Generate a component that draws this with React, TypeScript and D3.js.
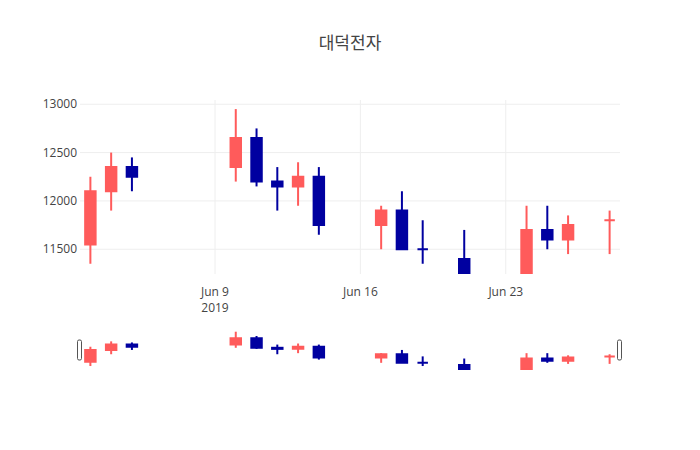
import { useEffect, useRef } from "react";
import * as d3 from "d3";

const dates = [
  "2019-06-03", "2019-06-04", "2019-06-05", "2019-06-10", "2019-06-11", "2019-06-12",
  "2019-06-13", "2019-06-14", "2019-06-17", "2019-06-18", "2019-06-19", "2019-06-21",
  "2019-06-24", "2019-06-25", "2019-06-26", "2019-06-28",
];
const openValues = [11550, 12100, 12350, 12350, 12650, 12200, 12150, 12250, 11750, 11900, 11500, 11400, 11200, 11700, 11600, 11800];
const highValues = [12250, 12500, 12450, 12950, 12750, 12350, 12400, 12350, 11950, 12100, 11800, 11700, 11950, 11950, 11850, 11900];
const lowValues = [11350, 11900, 12100, 12200, 12150, 11900, 11950, 11650, 11500, 11500, 11350, 11200, 11200, 11500, 11450, 11450];
const closeValues = [12100, 12350, 12250, 12650, 12200, 12150, 12250, 11750, 11900, 11500, 11500, 11200, 11700, 11600, 11750, 11800];
const yTicks = [11500, 12000, 12500, 13000];
const xTicks = ["2019-06-09", "2019-06-16", "2019-06-23"];

const INC = "#ff5b5b";
const DEC = "#0000a0";
const FONT = '"Open Sans", verdana, arial, "Noto Sans CJK KR", sans-serif';

type Candle = { date: Date; o: number; h: number; l: number; c: number; up: boolean };

const parse = (s: string) => {
  const [y, m, d] = s.split("-").map(Number);
  return new Date(y, m - 1, d);
};

const App = () => {
  const ref = useRef<SVGSVGElement>(null);

  useEffect(() => {
    const svg = d3.select(ref.current);
    svg.selectAll("*").remove();
    const width = 700;
    const height = 450;
    svg.attr("width", width).attr("height", height);

    // open == close: direction follows previous close (as plotly does)
    const candles: Candle[] = dates.map((d, i) => {
      const o = openValues[i];
      const c = closeValues[i];
      const prev = i > 0 ? closeValues[i - 1] : c;
      return {
        date: parse(d),
        o,
        h: highValues[i],
        l: lowValues[i],
        c,
        up: c > o || (c === o && c > prev),
      };
    });

    const x = d3
      .scaleTime()
      .domain([new Date(2019, 5, 2, 12), new Date(2019, 5, 28, 12)])
      .range([80, 620]);
    const day = x(new Date(2019, 5, 4)) - x(new Date(2019, 5, 3));

    const y = d3.scaleLinear().domain([11244, 13044]).range([274, 100]);
    const ySlider = d3.scaleLinear().domain([11165, 13030]).range([370, 330]);

    svg.append("rect").attr("width", width).attr("height", height).attr("fill", "white");

    svg
      .append("text")
      .text("대덕전자")
      .attr("x", 350)
      .attr("y", 49)
      .attr("text-anchor", "middle")
      .style("font-family", FONT)
      .style("font-size", "17px")
      .style("fill", "#444");

    // grid
    const grid = svg.append("g");
    grid
      .selectAll("line.y")
      .data(yTicks)
      .enter()
      .append("line")
      .attr("x1", 80)
      .attr("x2", 620)
      .attr("y1", (d) => y(d))
      .attr("y2", (d) => y(d))
      .attr("stroke", "#eee");
    grid
      .selectAll("line.x")
      .data(xTicks)
      .enter()
      .append("line")
      .attr("x1", (d) => x(parse(d)))
      .attr("x2", (d) => x(parse(d)))
      .attr("y1", 100)
      .attr("y2", 274)
      .attr("stroke", "#eee");

    svg
      .append("g")
      .selectAll("text")
      .data(yTicks)
      .enter()
      .append("text")
      .attr("x", 77)
      .attr("y", (d) => y(d))
      .attr("dy", "0.35em")
      .attr("text-anchor", "end")
      .text((d) => String(d))
      .style("font-family", FONT)
      .style("font-size", "12px")
      .style("fill", "#444");

    const fmt = d3.timeFormat("%b %-d");
    const xAxis = svg.append("g");
    xAxis
      .selectAll("text")
      .data(xTicks)
      .enter()
      .append("text")
      .attr("x", (d) => x(parse(d)))
      .attr("y", 296)
      .attr("text-anchor", "middle")
      .text((d) => fmt(parse(d)))
      .style("font-family", FONT)
      .style("font-size", "12px")
      .style("fill", "#444");
    xAxis
      .append("text")
      .attr("x", x(parse(xTicks[0])))
      .attr("y", 312)
      .attr("text-anchor", "middle")
      .text("2019")
      .style("font-family", FONT)
      .style("font-size", "12px")
      .style("fill", "#444");

    svg
      .append("clipPath")
      .attr("id", "plot-clip")
      .append("rect")
      .attr("x", 80)
      .attr("y", 100)
      .attr("width", 540)
      .attr("height", 174);

    const drawCandles = (
      g: d3.Selection<SVGGElement, unknown, null, undefined>,
      ys: d3.ScaleLinear<number, number>
    ) => {
      const items = g.selectAll("g").data(candles).enter().append("g");
      items
        .append("line")
        .attr("x1", (d) => x(d.date))
        .attr("x2", (d) => x(d.date))
        .attr("y1", (d) => ys(d.h))
        .attr("y2", (d) => ys(d.l))
        .attr("stroke", (d) => (d.up ? INC : DEC))
        .attr("stroke-width", 2);
      items
        .append("path")
        .attr("d", (d) => {
          const x0 = x(d.date) - 0.3 * day + 1;
          const x1 = x(d.date) + 0.3 * day - 1;
          const y0 = ys(Math.max(d.o, d.c));
          const y1 = ys(Math.min(d.o, d.c));
          return `M${x0},${y0}H${x1}V${y1}H${x0}Z`;
        })
        .attr("fill", (d) => (d.up ? INC : DEC))
        .attr("stroke", (d) => (d.up ? INC : DEC))
        .attr("stroke-width", 2);
    };

    const main = svg.append("g").attr("clip-path", "url(#plot-clip)");
    drawCandles(main, y);

    // range slider
    svg
      .append("clipPath")
      .attr("id", "slider-clip")
      .append("rect")
      .attr("x", 80)
      .attr("y", 330)
      .attr("width", 540)
      .attr("height", 40);
    const slider = svg.append("g").attr("clip-path", "url(#slider-clip)");
    drawCandles(slider, ySlider);

    svg
      .append("g")
      .selectAll("rect")
      .data([80, 620])
      .enter()
      .append("rect")
      .attr("x", (d) => d - 2.5)
      .attr("y", 340)
      .attr("width", 4)
      .attr("height", 20)
      .attr("rx", 1.5)
      .attr("fill", "white")
      .attr("stroke", "#555")
      .attr("stroke-width", 1);
  }, []);

  return <svg ref={ref} style={{ position: "absolute", left: 0, top: 0 }}></svg>;
};

export default App;
